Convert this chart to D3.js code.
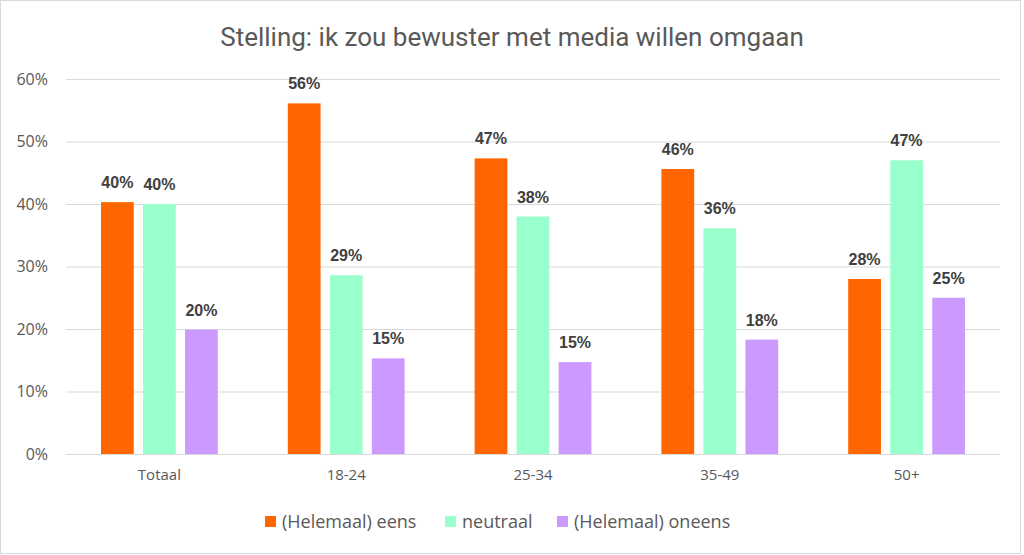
<!DOCTYPE html>
<html>
<head>
<meta charset="utf-8">
<script src="https://cdn.jsdelivr.net/npm/d3@7"></script>
<style>
  html, body { margin: 0; padding: 0; background: #fff; }
  svg { display: block; }
</style>
</head>
<body>
<svg id="chart"></svg>
<script>
const categories = ['Totaal', '18-24', '25-34', '35-49', '50+'];
const seriesNames = ['(Helemaal) eens', 'neutraal', '(Helemaal) oneens'];
const seriesColors = ['#FF6600', '#99FFCC', '#CC99FF'];
const eens = [40.3, 56.1, 47.3, 45.6, 28.0];
const neutraal = [40.0, 28.6, 38.0, 36.1, 47.0];
const oneens = [19.9, 15.3, 14.7, 18.3, 25.0];
const yTicks = [0, 10, 20, 30, 40, 50, 60];

const width = 1024;
const height = 555;
const margin = { top: 79, right: 24, bottom: 101, left: 66 };
const innerW = width - margin.left - margin.right;
const innerH = height - margin.top - margin.bottom;

const data = categories.map((c, i) => ({
    category: c,
    values: [eens[i], neutraal[i], oneens[i]].map((v, j) => ({ series: seriesNames[j], value: v }))
}));

const svg = d3.select('#chart')
    .attr('width', width)
    .attr('height', height);

svg.append('rect')
    .attr('x', 0.5).attr('y', 0.5)
    .attr('width', 1020).attr('height', 553)
    .attr('fill', '#fff')
    .attr('stroke', '#d9d9d9');

svg.append('text')
    .attr('x', 512)
    .attr('y', 46)
    .attr('text-anchor', 'middle')
    .style('font-family', '"Liberation Sans Narrow", "Roboto", sans-serif')
    .style('font-size', '26px')
    .style('fill', '#595959')
    .text('Stelling: ik zou bewuster met media willen omgaan');

const g = svg.append('g')
    .attr('transform', `translate(${margin.left},${margin.top})`);

const x0 = d3.scaleBand()
    .domain(categories)
    .range([0, innerW]);

const x1 = d3.scaleBand()
    .domain(seriesNames)
    .range([35, x0.bandwidth() - 35])
    .paddingInner(0.22);

const y = d3.scaleLinear()
    .domain([0, 60])
    .range([innerH, 0]);

const color = d3.scaleOrdinal()
    .domain(seriesNames)
    .range(seriesColors);

// gridlines
g.append('g')
    .selectAll('line')
    .data(yTicks)
    .enter().append('line')
    .attr('x1', 0)
    .attr('x2', innerW)
    .attr('y1', d => y(d) + 0.5)
    .attr('y2', d => y(d) + 0.5)
    .attr('stroke', '#d9d9d9')
    .attr('stroke-width', 1);

const yAxis = g.append('g')
    .call(d3.axisLeft(y).tickValues(yTicks).tickFormat(d => d + '%').tickSize(0).tickPadding(18));
yAxis.select('.domain').remove();
yAxis.selectAll('text')
    .style('font-family', '"Open Sans", sans-serif')
    .style('font-size', '16px')
    .style('fill', '#595959');

const xAxis = g.append('g')
    .attr('transform', `translate(0,${innerH})`)
    .call(d3.axisBottom(x0).tickSize(0).tickPadding(15));
xAxis.select('.domain').remove();
xAxis.selectAll('text')
    .style('font-family', '"Open Sans", sans-serif')
    .style('font-size', '15px')
    .style('fill', '#595959');

const groups = g.selectAll('.group')
    .data(data)
    .enter().append('g')
    .attr('class', 'group')
    .attr('transform', d => `translate(${x0(d.category)},0)`);

groups.selectAll('rect')
    .data(d => d.values)
    .enter().append('rect')
    .attr('x', d => x1(d.series))
    .attr('width', x1.bandwidth())
    .attr('y', d => y(d.value))
    .attr('height', d => innerH - y(d.value))
    .attr('fill', d => color(d.series));

groups.selectAll('.label')
    .data(d => d.values)
    .enter().append('text')
    .attr('class', 'label')
    .attr('x', d => x1(d.series) + x1.bandwidth() / 2)
    .attr('y', d => y(d.value) - 14)
    .attr('text-anchor', 'middle')
    .style('font-family', '"Liberation Sans", Arial, sans-serif')
    .style('font-weight', 'bold')
    .style('font-size', '16px')
    .style('fill', '#404040')
    .text(d => Math.round(d.value) + '%');

// legend
const legendX = [265, 445, 557];
const legend = svg.append('g');
const items = legend.selectAll('g')
    .data(seriesNames)
    .enter().append('g')
    .attr('transform', (d, i) => `translate(${legendX[i]},516)`);

items.append('rect')
    .attr('width', 11)
    .attr('height', 11)
    .attr('fill', d => color(d));

items.append('text')
    .attr('x', 17)
    .attr('y', 12)
    .style('font-family', '"Open Sans", sans-serif')
    .style('font-size', '18px')
    .style('fill', '#595959')
    .text(d => d);
</script>
</body>
</html>
